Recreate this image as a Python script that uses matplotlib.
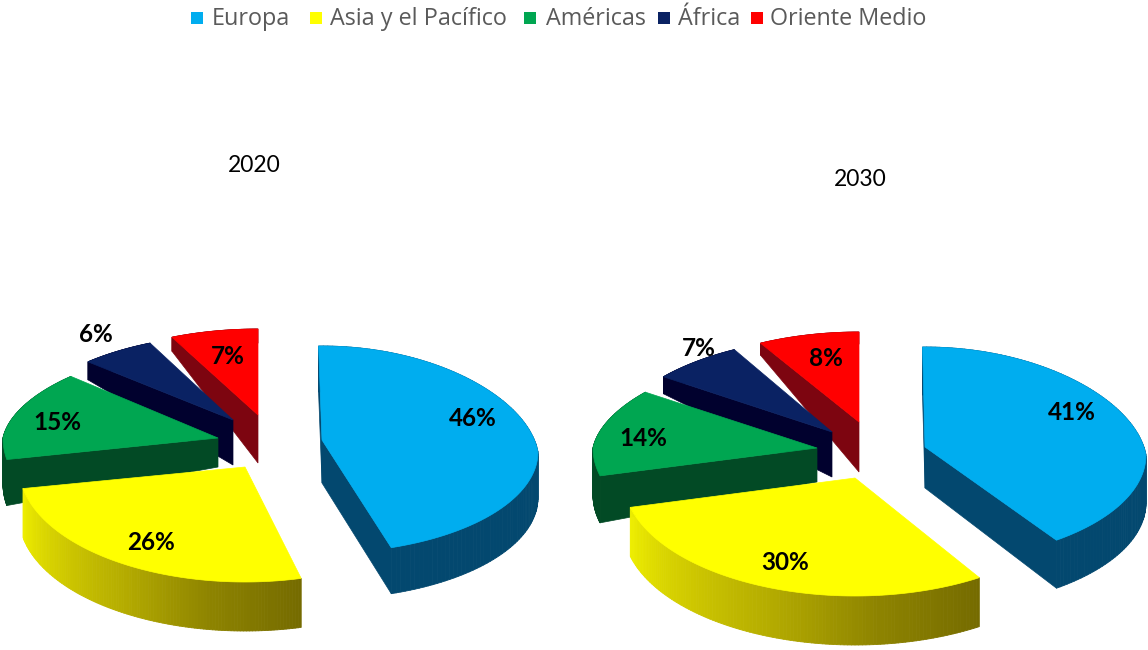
import numpy as np
import matplotlib
matplotlib.use("Agg")
import matplotlib.pyplot as plt
from matplotlib.collections import PolyCollection
from matplotlib.colors import to_rgb

categories = ["Europa", "Asia y el Pacífico", "Américas", "África", "Oriente Medio"]
share_2020 = [46, 26, 15, 6, 7]
share_2030 = [41, 30, 14, 7, 8]
titles = ["2020", "2030"]

top_colors = ["#00ADEF", "#FFFF00", "#00A651", "#0A2263", "#FF0000"]
wall_colors = ["#03486F", None, "#024A25", "#01012E", "#7D0510"]
yellow_wall = ["#EEEE00", "#D2CC00", "#B5AC00", "#8E8400", "#756B00"]

# layout per wedge: apex x, apex y, rx, ry back, ry front, arc centre shift,
# wall height at apex, wall height at rim, start and end angle correction
layout_2020 = [
    (322, 440, 216, 106, 101, 12, 43, 46, -1.0, -4.3),
    (245, 467, 226, 115, 115, 0, 0, 49, 0, 0),
    (218, 438, 215, 90, 115, 0, 29, 46, 0, 0),
    (233, 420, 212, 85, 115, 0, 45, 18, 0, 0),
    (258, 415, 220, 86, 115, 0, 48, 14, 0, 0),
]
layout_2030 = [
    (925, 447, 221, 108, 106, 8, 41, 48, -0.7, -4.1),
    (855, 478, 232, 118, 118, 0, 0, 49, 0, 0),
    (817, 448, 224, 95, 112, 0, 34, 47, 0, 0),
    (832, 432, 220, 94, 112, 0, 45, 17, 0, 0),
    (859, 422, 222, 90, 112, 0, 50, 12, 0, 0),
]
label_xy_2020 = [(473, 418), (151, 542), (57, 422), (96, 335), (228, 356)]
label_xy_2030 = [(1072, 412), (785, 562), (643, 438), (699, 348), (826, 358)]
title_xy = [(254, 166), (860, 179)]
legend_swatch_x = [197, 316, 530, 664, 757]
legend_text_x = [212, 330, 546, 678, 770]
draw_order = [4, 3, 2, 1, 0]

fig = plt.figure(figsize=(11.48, 6.5), dpi=100)
ax = fig.add_axes([0, 0, 1, 1])
ax.set_xlim(0, 1148)
ax.set_ylim(650, 0)
ax.axis("off")


def rim(t_deg, lay):
    ax_, ay, rx, ryb, ryf, cdy = lay[:6]
    t = np.radians(t_deg)
    X, Y = np.sin(t), np.cos(t)
    shrink = 1 - 0.09 * np.clip(Y, 0, None)
    x = ax_ + rx * X * shrink
    y = ay + cdy - np.where(Y > 0, ryb, ryf) * Y
    return x, y


def blend(stops, n):
    rgb = np.array([to_rgb(c) for c in stops])
    pos = np.linspace(0, 1, len(stops))
    q = np.linspace(0, 1, n)
    return np.column_stack([np.interp(q, pos, rgb[:, i]) for i in range(3)])


def draw_pie(values, layout):
    edges = np.cumsum([0] + list(values)) * 3.6
    for i in draw_order:
        lay = layout[i]
        ax_, ay = lay[:2]
        da, dr, warp0, warp1 = lay[6:]
        a0, a1 = edges[i] + warp0, edges[i + 1] + warp1
        ts = np.linspace(a0, a1, 121)
        x, y = rim(ts, lay)
        # outer wall
        quads = [[(x[k], y[k]), (x[k + 1], y[k + 1]), (x[k + 1], y[k + 1] + dr), (x[k], y[k] + dr)]
                 for k in range(len(ts) - 1)]
        if wall_colors[i] is None:
            cols = blend(yellow_wall[::-1], len(quads))
        else:
            cols = [wall_colors[i]] * len(quads)
        ax.add_collection(PolyCollection(quads, facecolors=cols, edgecolors=cols, linewidths=0.6, zorder=1))
        # the cut faces that look towards the viewer
        wall_flat = wall_colors[i] or yellow_wall[-1]
        for t_cut, sign, px, py in ((a0, -1, x[0], y[0]), (a1, 1, x[-1], y[-1])):
            tangent_y = -np.sin(np.radians(t_cut)) * sign
            if tangent_y < 0 and da > 0:
                ax.fill([ax_, px, px, ax_], [ay, py, py + dr, ay + da], color=wall_flat, lw=0.5)
        # top face
        ax.fill(np.r_[ax_, x], np.r_[ay, y], color=top_colors[i], lw=0.5)


draw_pie(share_2020, layout_2020)
draw_pie(share_2030, layout_2030)

for values, xy in ((share_2020, label_xy_2020), (share_2030, label_xy_2030)):
    for v, (lx, ly) in zip(values, xy):
        ax.text(lx, ly, f"{v}%", ha="center", va="center", family="Lato",
                weight="bold", fontsize=17.5, color="black", zorder=5)

for t, (tx, ty) in zip(titles, title_xy):
    ax.text(tx, ty, t, ha="center", va="center", family="Lato", fontsize=16.5, color="black")

for name, c, sx, tx in zip(categories, top_colors, legend_swatch_x, legend_text_x):
    ax.fill([sx - 6, sx + 6, sx + 6, sx - 6], [12, 12, 24, 24], color=c, lw=0)
    ax.text(tx, 19, name, ha="left", va="center", family="Open Sans", fontsize=16.8, color="#5A5A5A")

fig.savefig("out.png", dpi=100, facecolor="white")
